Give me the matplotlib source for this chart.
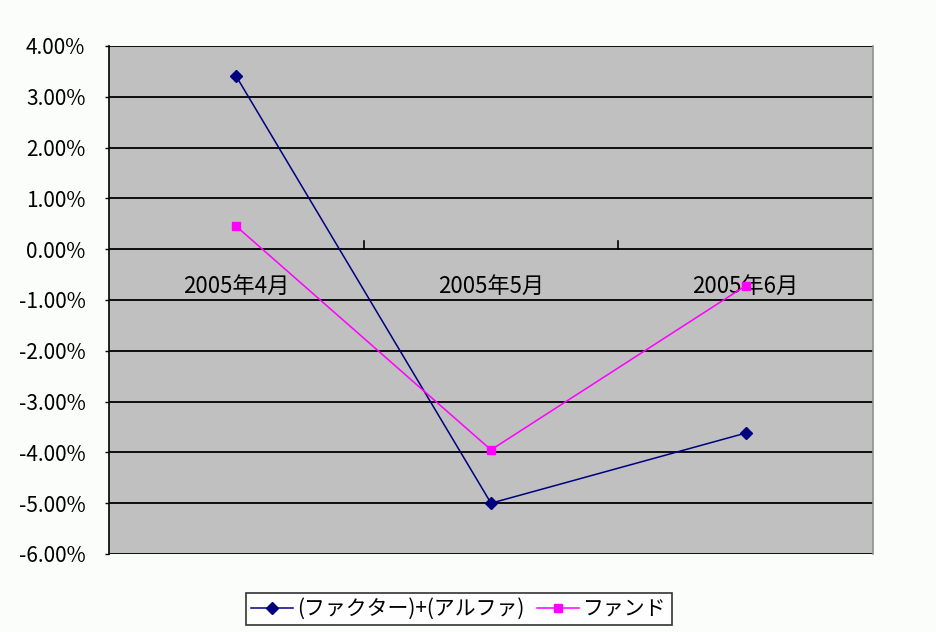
import matplotlib
matplotlib.use("Agg")
import matplotlib.pyplot as plt
from matplotlib.ticker import FuncFormatter

plt.rcParams['font.family'] = ['Noto Sans CJK JP', 'DejaVu Sans']

categories = ["2005年4月", "2005年5月", "2005年6月"]
factor_alpha = [3.40, -5.00, -3.62]   # (ファクター)+(アルファ), %
fund = [0.45, -3.95, -0.72]           # ファンド, %
y_ticks = [4, 3, 2, 1, 0, -1, -2, -3, -4, -5, -6]

fig = plt.figure(figsize=(9.36, 6.32), dpi=100, facecolor='#fbfdfb')
W, H = 936, 632
left, right, top, bottom = 109, 873, 46, 554
ax = fig.add_axes([left / W, 1 - bottom / H, (right - left) / W, (bottom - top) / H])
ax.set_facecolor('#c0c0c0')

x = list(range(len(categories)))
ax.set_xlim(-0.5, len(categories) - 0.5)
ax.set_ylim(-6, 4)

for v in y_ticks:
    ax.axhline(v, color='black', lw=1.3, zorder=1)

ax.plot(x, factor_alpha, color='#000080', lw=1.1, marker='D', ms=6,
        mfc='#000080', mec='#000080', zorder=3, label='(ファクター)+(アルファ)')
ax.plot(x, fund, color='#ff00ff', lw=1.1, marker='s', ms=6,
        mfc='#ff00ff', mec='#ff00ff', zorder=3, label='ファンド')

# category axis crosses at zero with upward tick marks between categories
for b in [0.5, 1.5]:
    ax.plot([b, b], [0, 0.16], color='black', lw=1.2, zorder=2)
for i, c in enumerate(categories):
    ax.text(i, -0.74, c, ha='center', va='center', fontsize=16, color='black', zorder=2)

ax.set_xticks([])
ax.set_yticks(y_ticks)
ax.yaxis.set_major_formatter(FuncFormatter(lambda v, p: f"{v:.2f}%"))
ax.tick_params(axis='y', labelsize=15, length=3, width=1, pad=14, colors='black')

for s in ['top', 'bottom']:
    ax.spines[s].set_visible(False)
ax.spines['left'].set_color('black')
ax.spines['left'].set_linewidth(1.2)
ax.spines['right'].set_color('#909090')
ax.spines['right'].set_linewidth(1.2)

leg = fig.legend(loc='upper center', bbox_to_anchor=(459 / W, 1 - 593 / H), ncol=2,
                 fontsize=15, frameon=True, fancybox=False, edgecolor='black',
                 handlelength=2.0, handletextpad=0.2, columnspacing=0.6,
                 borderpad=0.25, borderaxespad=0)
leg.get_frame().set_linewidth(1.2)
leg.get_frame().set_facecolor('white')

fig.savefig('out.png', dpi=100, facecolor=fig.get_facecolor())
